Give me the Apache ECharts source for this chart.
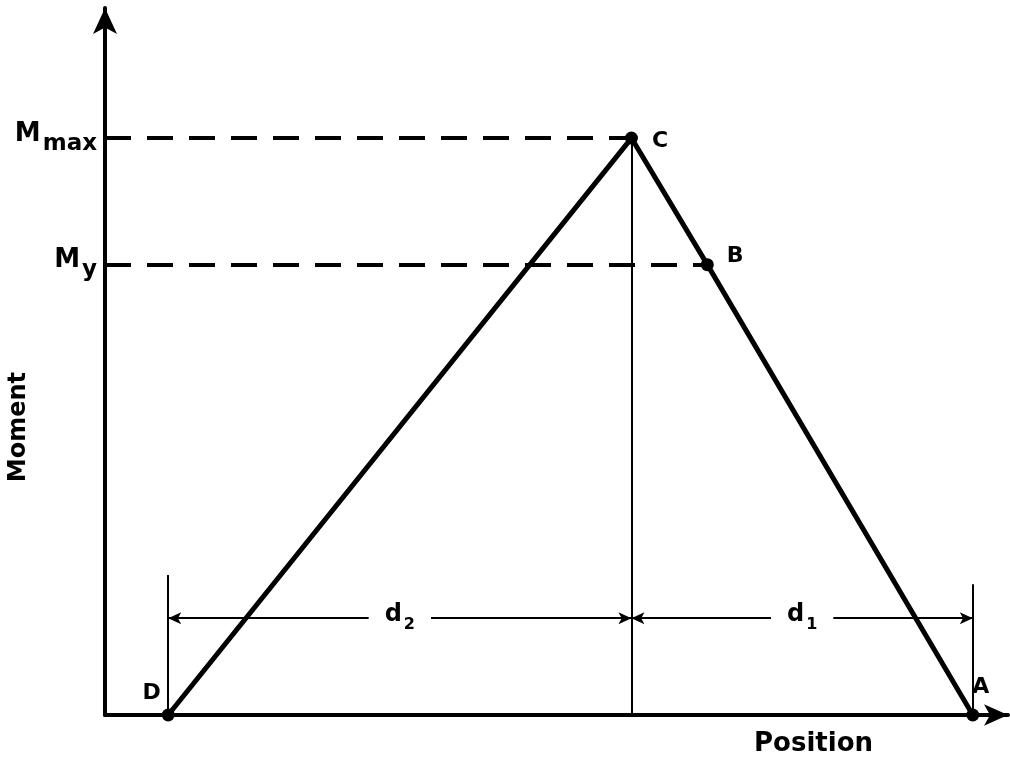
<!DOCTYPE html>
<html>
<head>
<meta charset="utf-8">
<title>Moment vs Position</title>
<style>
    html, body { margin: 0; padding: 0; background: #fff; }
    #momentID { width: 1010px; height: 762px; }
</style>
</head>
<body>
<div id="momentID"></div>
<script src="https://cdn.jsdelivr.net/npm/echarts@6.0.0/dist/echarts.min.js"></script>
<script>
// points of the moment diagram, D -> C -> B -> A
const pointNames = ['D', 'C', 'B', 'A'];
const positions = [7.0, 58.3, 66.7, 96.1];
const moments = [0, 81.6, 63.7, 0];

// levels on the moment axis (M with subscript), reached at C and B
const levelSubs = ['max', 'y'];
const levelValues = [81.6, 63.7];
const levelPoints = [1, 2];

// dimension lines d2 (D..C) and d1 (C..A)
const spanSubs = ['2', '1'];
const spanStarts = [7.0, 58.3];
const spanEnds = [58.3, 96.1];
const spanHeight = 13.7;
// extension lines at D and A
const extensionX = [7.0, 96.1];
const extensionTops = [19.8, 18.5];

const INK = '#000';
const FONT = "'DejaVu Sans', sans-serif";

// label offsets of each point name
const pointLabelPos = {
    D: { position: 'left', offset: [4, -22] },
    C: { position: 'right', offset: [9, 3] },
    B: { position: 'right', offset: [8, -8] },
    A: { position: 'right', offset: [-12, -28] }
};

var echartObj = echarts.init(document.querySelector('#momentID'));

const pointData = pointNames.map(function (name, i) {
    return {
        name: name,
        value: [positions[i], moments[i]],
        label: pointLabelPos[name]
    };
});

// dashed level lines + thin construction lines
const guideLines = [];
levelValues.forEach(function (v, i) {
    guideLines.push([
        { coord: [0, v], lineStyle: { type: [26, 16], width: 4, color: INK } },
        { coord: [positions[levelPoints[i]], v] }
    ]);
});
guideLines.push([
    { coord: [positions[1], 0], lineStyle: { type: 'solid', width: 2, color: INK } },
    { coord: [positions[1], moments[1]] }
]);
extensionX.forEach(function (x, i) {
    guideLines.push([
        { coord: [x, 0], lineStyle: { type: 'solid', width: 2, color: INK } },
        { coord: [x, extensionTops[i]] }
    ]);
});

const spanLines = spanStarts.map(function (s, i) {
    return [{ coord: [s, spanHeight] }, { coord: [spanEnds[i], spanHeight] }];
});

const spanLabelData = spanSubs.map(function (sub, i) {
    return {
        value: [(spanStarts[i] + spanEnds[i]) / 2, spanHeight],
        label: { formatter: '{d|d}{s|' + sub + '}' }
    };
});

const levelLabelData = levelSubs.map(function (sub, i) {
    return {
        value: [0, levelValues[i]],
        label: { formatter: '{m|M}{s|' + sub + '}' }
    };
});

// rich text pieces in black
function ink(style) {
    return Object.assign({
        fontFamily: FONT,
        fontWeight: 'bold',
        color: INK
    }, style);
}

const option = {
    backgroundColor: '#fff',
    animation: false,
    grid: {
        left: 105,
        right: 2,
        top: 8,
        bottom: 46
    },
    xAxis: {
        type: 'value',
        min: 0,
        max: 100,
        name: 'Position',
        nameLocation: 'middle',
        nameGap: 16,
        nameTextStyle: {
            fontFamily: FONT,
            fontWeight: 'bold',
            fontSize: 26,
            color: INK,
            padding: [0, 0, 0, 514]
        },
        axisLine: {
            lineStyle: { color: INK, width: 4 },
            symbol: ['none', 'arrow'],
            symbolSize: [16, 24]
        },
        axisTick: { show: false },
        axisLabel: { show: false },
        splitLine: { show: false }
    },
    yAxis: {
        type: 'value',
        min: 0,
        max: 100,
        axisLine: {
            lineStyle: { color: INK, width: 4 },
            symbol: ['none', 'arrow'],
            symbolSize: [18, 26]
        },
        axisTick: { show: false },
        axisLabel: { show: false },
        splitLine: { show: false }
    },
    graphic: [{
        type: 'text',
        left: 7,
        top: 372,
        rotation: Math.PI / 2,
        style: {
            text: 'Moment',
            font: 'bold 24px ' + FONT,
            fill: INK
        }
    }],
    series: [
        {
            type: 'line',
            z: 3,
            data: pointData,
            symbol: 'circle',
            symbolSize: 13,
            showSymbol: true,
            itemStyle: { color: INK },
            lineStyle: { color: INK, width: 5 },
            label: {
                show: true,
                formatter: '{b}',
                fontFamily: FONT,
                fontWeight: 'bold',
                fontSize: 22,
                color: INK
            },
            markLine: {
                silent: true,
                symbol: ['none', 'none'],
                label: { show: false },
                data: guideLines
            }
        },
        {
            type: 'line',
            z: 2,
            data: [],
            markLine: {
                silent: true,
                symbol: ['arrow', 'arrow'],
                symbolSize: [9, 13],
                label: { show: false },
                lineStyle: { type: 'solid', width: 2, color: INK },
                data: spanLines
            }
        },
        {
            type: 'scatter',
            z: 6,
            symbolSize: 0,
            itemStyle: { opacity: 1 },
            data: spanLabelData,
            label: {
                show: true,
                position: 'inside',
                backgroundColor: '#fff',
                padding: [2, 16, 2, 16],
                color: INK,
                opacity: 1,
                rich: {
                    d: ink({ fontSize: 24, lineHeight: 30, verticalAlign: 'top' }),
                    s: ink({ fontSize: 16, lineHeight: 30, verticalAlign: 'bottom', padding: [8, 0, 0, 2] })
                }
            }
        },
        {
            type: 'scatter',
            z: 6,
            symbolSize: 0,
            clip: false,
            itemStyle: { opacity: 1 },
            data: levelLabelData,
            label: {
                show: true,
                position: 'left',
                distance: 8,
                color: INK,
                opacity: 1,
                rich: {
                    m: ink({ fontSize: 26, lineHeight: 34, verticalAlign: 'top' }),
                    s: ink({ fontSize: 23, lineHeight: 34, verticalAlign: 'bottom', padding: [10, 0, 0, 2] })
                }
            }
        }
    ]
};

echartObj.setOption(option);
window.addEventListener('resize', function () {
    echartObj.resize();
});
</script>
</body>
</html>
